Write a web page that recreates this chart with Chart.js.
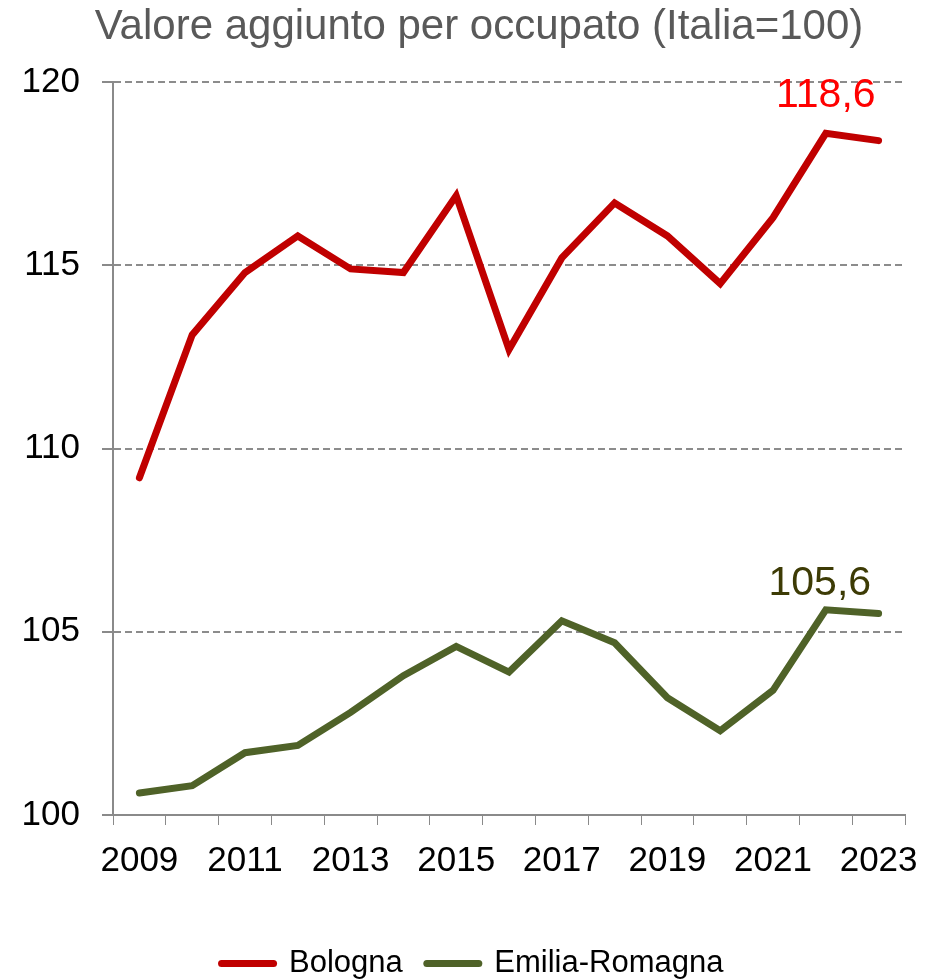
<!DOCTYPE html>
<html lang="it">
<head>
<meta charset="utf-8">
<title>Valore aggiunto per occupato</title>
<script src="https://cdn.jsdelivr.net/npm/chart.js@4.4.1/dist/chart.umd.min.js"></script>
<style>
  html, body { margin: 0; padding: 0; background: #fff; }
  #contenitore { width: 937px; height: 979px; }
</style>
</head>
<body>
<div id="contenitore"><canvas id="grafico"></canvas></div>
<script>
// anni e serie (Italia = 100)
const anni = ['2009', '2010', '2011', '2012', '2013', '2014', '2015', '2016',
  '2017', '2018', '2019', '2020', '2021', '2022', '2023'];
const bologna = [109.2, 113.1, 114.8, 115.8, 114.9, 114.8, 116.9, 112.7,
  115.2, 116.7, 115.8, 114.5, 116.3, 118.6, 118.4];
const emiliaRomagna = [100.6, 100.8, 101.7, 101.9, 102.8, 103.8, 104.6, 103.9,
  105.3, 104.7, 103.2, 102.3, 103.4, 105.6, 105.5];
const asseYMin = 100;
const asseYMax = 120;
const asseYPasso = 5;
const annoEtichetta = '2022';
const titolo = 'Valore aggiunto per occupato (Italia=100)';

const FONT = '"Liberation Sans", Arial, sans-serif';
const grigioAsse = '#8a8a8a';

// titolo disegnato a mano, un po' spostato verso destra come nell'originale
const titoloGrafico = {
  id: 'titoloGrafico',
  afterDraw(chart) {
    const ctx = chart.ctx;
    ctx.save();
    ctx.font = '42px ' + FONT;
    ctx.fillStyle = '#595959';
    ctx.textAlign = 'center';
    ctx.textBaseline = 'alphabetic';
    ctx.fillText(titolo, 479, 39);
    ctx.restore();
  },
  // la legenda centrata sotto il grafico, non su tutta la tela
  afterLayout(chart) {
    chart.legend.left += 20;
    chart.legend.right += 20;
  }
};

// scrive il valore sopra il punto dell'anno scelto
const etichetteValori = {
  id: 'etichetteValori',
  afterDatasetsDraw(chart) {
    const ctx = chart.ctx;
    const i = anni.indexOf(annoEtichetta);
    chart.data.datasets.forEach((ds, d) => {
      const p = chart.getDatasetMeta(d).data[i];
      const testo = ds.data[i].toFixed(1).replace('.', ',');
      ctx.save();
      ctx.font = '41px ' + FONT;
      ctx.fillStyle = ds.coloreEtichetta;
      ctx.textAlign = 'center';
      ctx.textBaseline = 'alphabetic';
      ctx.fillText(testo, p.x + ds.spostaEtichetta[0], p.y - ds.spostaEtichetta[1]);
      ctx.restore();
    });
  }
};

const grafico = document.getElementById('grafico');

new Chart(grafico, {
  type: 'line',
  data: {
    labels: anni,
    datasets: [
      {
        label: 'Bologna',
        data: bologna,
        borderColor: '#c00000',
        backgroundColor: '#c00000',
        borderWidth: 7,
        borderCapStyle: 'round',
        pointRadius: 0,
        tension: 0,
        coloreEtichetta: '#ff0000',
        spostaEtichetta: [0, 26]
      },
      {
        label: 'Emilia-Romagna',
        data: emiliaRomagna,
        borderColor: '#4f6228',
        backgroundColor: '#4f6228',
        borderWidth: 7,
        borderCapStyle: 'round',
        pointRadius: 0,
        tension: 0,
        coloreEtichetta: '#3d3b05',
        spostaEtichetta: [-6, 15]
      }
    ]
  },
  options: {
    responsive: true,
    maintainAspectRatio: false,
    animation: false,
    layout: { padding: { left: 0, right: 32, top: 82, bottom: -10 } },
    plugins: {
      title: { display: false },
      legend: {
        position: 'bottom',
        labels: {
          color: '#000',
          font: { family: FONT, size: 31 },
          usePointStyle: true,
          pointStyleWidth: 52,
          boxHeight: 7,
          padding: 24,
          generateLabels: (chart) =>
            Chart.defaults.plugins.legend.labels.generateLabels(chart).map(l => ({
              ...l, pointStyle: 'line', lineWidth: 7, lineCap: 'round'
            }))
        }
      },
      tooltip: { enabled: false }
    },
    scales: {
      x: {
        offset: true,
        grid: {
          offset: true,
          drawOnChartArea: false,
          drawTicks: true,
          tickLength: 10,
          color: grigioAsse,
          tickColor: grigioAsse
        },
        border: { display: true, color: grigioAsse, width: 2 },
        ticks: {
          autoSkip: false,
          maxRotation: 0,
          color: '#000',
          font: { family: FONT, size: 35 },
          padding: 15,
          callback: (v, i) => (i % 2 === 0 ? anni[i] : '')
        },
        afterFit: (scala) => { scala.height = 109; }
      },
      y: {
        min: asseYMin,
        max: asseYMax,
        ticks: {
          stepSize: asseYPasso,
          color: '#000',
          font: { family: FONT, size: 35 },
          padding: 22
        },
        grid: {
          color: '#8c8c8c',
          lineWidth: 2,
          drawTicks: true,
          tickLength: 11,
          tickColor: grigioAsse,
          tickBorderDash: []
        },
        border: { display: true, color: grigioAsse, width: 2, dash: [7, 4] },
        afterFit: (scala) => { scala.width = 113; }
      }
    }
  },
  plugins: [titoloGrafico, etichetteValori]
});
</script>
</body>
</html>
